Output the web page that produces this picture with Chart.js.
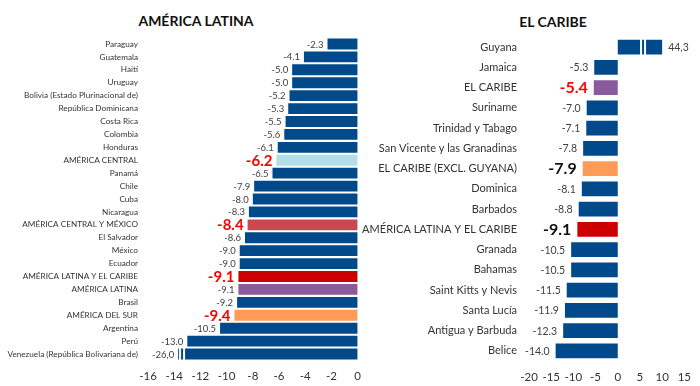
<!DOCTYPE html>
<html>
<head>
<meta charset="utf-8">
<script src="https://cdn.jsdelivr.net/npm/chart.js@4.4.1/dist/chart.umd.min.js"></script>
<style>
  body { margin: 0; background: #fff; }
  #wrap { position: relative; width: 700px; height: 386px; background: #fff; font-family: Lato, sans-serif; }
  .title { position: absolute; font-weight: bold; color: #111; transform: translateX(-50%); white-space: nowrap; }
  canvas { position: absolute; top: 0; }
</style>
</head>
<body>
<div id="wrap">
  <div class="title" style="left:196px; top:12px; font-size:14px;">AMÉRICA LATINA</div>
  <div class="title" style="left:553px; top:13px; font-size:14px;">EL CARIBE</div>
  <canvas id="leftChart" width="370" height="386" style="left:0"></canvas>
  <canvas id="rightChart" width="350" height="386" style="left:350px"></canvas>
</div>
<script>
// América Latina (top to bottom)
const latinNames = ['Paraguay', 'Guatemala', 'Haití', 'Uruguay', 'Bolivia (Estado Plurinacional de)',
  'República Dominicana', 'Costa Rica', 'Colombia', 'Honduras', 'AMÉRICA CENTRAL', 'Panamá', 'Chile',
  'Cuba', 'Nicaragua', 'AMÉRICA CENTRAL Y MÉXICO', 'El Salvador', 'México', 'Ecuador',
  'AMÉRICA LATINA Y EL CARIBE', 'AMÉRICA LATINA', 'Brasil', 'AMÉRICA DEL SUR', 'Argentina', 'Perú',
  'Venezuela (República Bolivariana de)'];
const latinValues = [-2.3, -4.1, -5.0, -5.0, -5.2, -5.3, -5.5, -5.6, -6.1, -6.2, -6.5, -7.9,
  -8.0, -8.3, -8.4, -8.6, -9.0, -9.0, -9.1, -9.1, -9.2, -9.4, -10.5, -13.0, -26.0];
// Venezuela's bar is cut off at the axis end
const latinShown = [-2.3, -4.1, -5.0, -5.0, -5.2, -5.3, -5.5, -5.6, -6.1, -6.2, -6.5, -7.9,
  -8.0, -8.3, -8.4, -8.6, -9.0, -9.0, -9.1, -9.1, -9.2, -9.4, -10.5, -13.0, -13.7];
const latinTicks = [-16, -14, -12, -10, -8, -6, -4, -2, 0];

// El Caribe (top to bottom)
const caribNames = ['Guyana', 'Jamaica', 'EL CARIBE', 'Suriname', 'Trinidad y Tabago',
  'San Vicente y las Granadinas', 'EL CARIBE (EXCL. GUYANA)', 'Dominica', 'Barbados',
  'AMÉRICA LATINA Y EL CARIBE', 'Granada', 'Bahamas', 'Saint Kitts y Nevis', 'Santa Lucía',
  'Antigua y Barbuda', 'Belice'];
const caribValues = [44.3, -5.3, -5.4, -7.0, -7.1, -7.8, -7.9, -8.1, -8.8, -9.1, -10.5, -10.5,
  -11.5, -11.9, -12.3, -14.0];
// Guyana's bar is cut off
const caribShown = [10.0, -5.3, -5.4, -7.0, -7.1, -7.8, -7.9, -8.1, -8.8, -9.1, -10.5, -10.5,
  -11.5, -11.9, -12.3, -14.0];
const caribTicks = [-20, -15, -10, -5, 0, 5, 10, 15];

// styles
const BLUE = '#004a8c';
const groupStyle = {
  'AMÉRICA CENTRAL': { color: '#b2dfe7', label: 'red' },
  'AMÉRICA CENTRAL Y MÉXICO': { color: '#c84a50', label: 'red' },
  'AMÉRICA LATINA Y EL CARIBE': { color: '#cc0000', label: 'red' },
  'AMÉRICA LATINA': { color: '#8a5a9d', label: 'plain' },
  'AMÉRICA DEL SUR': { color: '#ff9b57', label: 'red' },
  'EL CARIBE': { color: '#8a5a9d', label: 'red' },
  'EL CARIBE (EXCL. GUYANA)': { color: '#ff9b57', label: 'black' }
};

// value next to each bar, plus break marks on clipped bars
function labelPlugin(names, values, cfg) {
  return {
    id: 'valueLabels',
    afterDatasetsDraw(chart) {
      const ctx = chart.ctx;
      const xs = chart.scales.x;
      const meta = chart.getDatasetMeta(0);
      ctx.save();
      meta.data.forEach((bar, i) => {
        const real = values[i];
        const shown = chart.data.datasets[0].data[i];
        const clipped = real !== shown;
        const top = bar.y - bar.height / 2;
        if (clipped) {
          ctx.fillStyle = '#fff';
          const bx = xs.getPixelForValue(cfg.breakAt(shown));
          ctx.fillRect(bx - 3, top - 1, 2, bar.height + 2);
          ctx.fillRect(bx + 1, top - 1, 2, bar.height + 2);
        }
        let txt = real.toFixed(1);
        if (clipped) txt = txt.replace('.', ',');
        const st = groupStyle[names[i]];
        const kind = cfg.override[names[i]] || (st && st.label) || 'plain';
        if (kind === 'plain') {
          ctx.font = cfg.plainFont;
          ctx.fillStyle = '#404040';
        } else {
          ctx.font = 'bold ' + cfg.bigFont;
          ctx.fillStyle = kind === 'red' ? '#ff0000' : '#111';
        }
        ctx.textBaseline = 'middle';
        if (shown < 0) {
          ctx.textAlign = 'right';
          ctx.fillText(txt, bar.x - cfg.gap, bar.y + 0.5);
        } else {
          ctx.textAlign = 'left';
          ctx.fillText(txt, bar.x + cfg.gap, bar.y + 0.5);
        }
      });
      ctx.restore();
    }
  };
}

function makeChart(id, names, values, shown, ticks, cfg) {
  const colors = names.map(n => groupStyle[n] ? groupStyle[n].color : BLUE);
  return new Chart(document.getElementById(id), {
    type: 'bar',
    data: {
      labels: names,
      datasets: [{
        data: shown,
        backgroundColor: colors,
        borderWidth: 0,
        barPercentage: cfg.barPct,
        categoryPercentage: 1
      }]
    },
    options: {
      indexAxis: 'y',
      responsive: false,
      animation: false,
      layout: { padding: { top: cfg.top, right: cfg.right, left: 0, bottom: 0 } },
      plugins: {
        legend: { display: false },
        tooltip: { enabled: false }
      },
      scales: {
        x: {
          min: ticks[0], max: ticks[ticks.length - 1],
          afterBuildTicks: s => { s.ticks = ticks.map(v => ({ value: v })); },
          afterFit: s => { s.height = cfg.xHeight; },
          grid: { display: false, drawTicks: false },
          border: { display: false },
          ticks: { padding: 9, color: '#333', autoSkip: false, maxRotation: 0, minRotation: 0,
            font: { family: 'Lato', size: 11.5 } }
        },
        y: {
          afterFit: s => { s.width = cfg.yWidth; },
          grid: { display: false, drawTicks: false },
          border: { display: false },
          ticks: { autoSkip: false, padding: cfg.labelPad, color: '#333', font: { family: 'Lato', size: cfg.catSize } }
        }
      }
    },
    plugins: [labelPlugin(names, values, cfg)]
  });
}

makeChart('leftChart', latinNames, latinValues, latinShown, latinTicks, {
  barPct: 0.84, top: 37.5, right: 10, yWidth: 148, xHeight: 25.5, labelPad: 10, catSize: 8.2,
  gap: 4, plainFont: '9.5px Lato', bigFont: '15px Lato', breakAt: v => v + 0.3, override: {}
});

makeChart('rightChart', caribNames, caribValues, caribShown, caribTicks, {
  barPct: 0.74, top: 37, right: 15, yWidth: 179, xHeight: 25, labelPad: 12, catSize: 11,
  gap: 6, plainFont: '10.5px Lato', bigFont: '16px Lato', breakAt: v => v * 0.57,
  override: { 'AMÉRICA LATINA Y EL CARIBE': 'black' }
});
</script>
</body>
</html>
